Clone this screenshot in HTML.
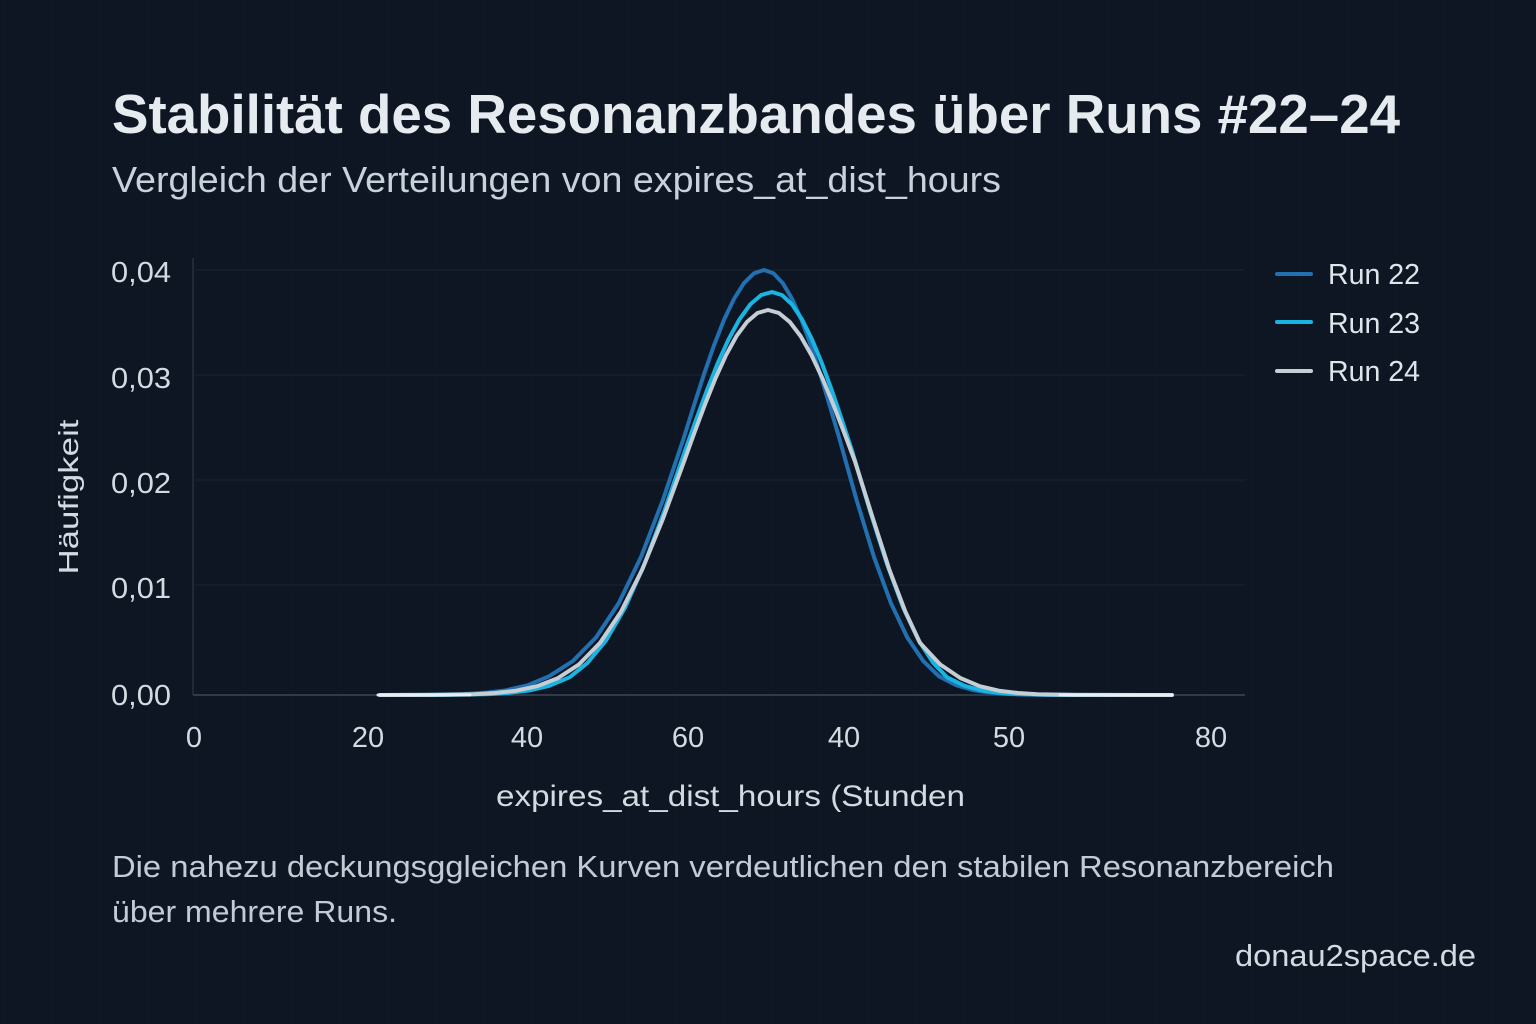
<!DOCTYPE html>
<html>
<head>
<meta charset="utf-8">
<style>
  html, body { margin: 0; padding: 0; }
  body { width: 1536px; height: 1024px; overflow: hidden; background: #0d1622; }
  svg { display: block; }
  text { font-family: "Liberation Sans", "DejaVu Sans", sans-serif; }
</style>
</head>
<body>
<svg width="1536" height="1024" viewBox="0 0 1536 1024" xmlns="http://www.w3.org/2000/svg">
  <defs>
    <pattern id="bggrid" width="48" height="48" patternUnits="userSpaceOnUse" x="5" y="0">
      <path d="M48 0 V48 M0 48 H48" stroke="#ffffff" stroke-opacity="0.025" stroke-width="1" fill="none"/>
    </pattern>
  </defs>
  <rect width="1536" height="1024" fill="#0d1622"/>
  <rect width="1536" height="1024" fill="url(#bggrid)"/>

  <!-- Title -->
  <text x="112" y="133" font-size="55" font-weight="bold" fill="#e6ebf0" textLength="1288" lengthAdjust="spacingAndGlyphs">Stabilität des Resonanzbandes über Runs #22–24</text>
  <text x="112" y="192" font-size="36" fill="#c8d2dc" textLength="889" lengthAdjust="spacingAndGlyphs">Vergleich der Verteilungen von expires_at_dist_hours</text>

  <!-- plot gridlines -->
  <g stroke="#16212d" stroke-width="1.5">
    <line x1="195" y1="270" x2="1245" y2="270"/>
    <line x1="195" y1="375" x2="1245" y2="375"/>
    <line x1="195" y1="480" x2="1245" y2="480"/>
    <line x1="195" y1="585" x2="1245" y2="585"/>
  </g>
  <!-- axes -->
  <line x1="193" y1="258" x2="193" y2="695" stroke="#243040" stroke-width="1.5"/>
  <line x1="193" y1="695" x2="1245" y2="695" stroke="#2e3b4a" stroke-width="2"/>

  <!-- y tick labels -->
  <g font-size="29" fill="#d3dae2">
    <text x="111" y="282" textLength="60" lengthAdjust="spacingAndGlyphs">0,04</text>
    <text x="111" y="388" textLength="60" lengthAdjust="spacingAndGlyphs">0,03</text>
    <text x="111" y="493" textLength="60" lengthAdjust="spacingAndGlyphs">0,02</text>
    <text x="111" y="598" textLength="60" lengthAdjust="spacingAndGlyphs">0,01</text>
    <text x="111" y="705" textLength="60" lengthAdjust="spacingAndGlyphs">0,00</text>
  </g>

  <!-- x tick labels -->
  <g font-size="29" fill="#d3dae2" text-anchor="middle">
    <text x="194" y="747">0</text>
    <text x="368" y="747">20</text>
    <text x="527" y="747">40</text>
    <text x="688" y="747">60</text>
    <text x="844" y="747">40</text>
    <text x="1009" y="747">50</text>
    <text x="1211" y="747">80</text>
  </g>

  <!-- axis titles -->
  <text x="496" y="806" font-size="30" fill="#d3dae2" textLength="469" lengthAdjust="spacingAndGlyphs">expires_at_dist_hours (Stunden</text>
  <text transform="translate(78,497) rotate(-90)" font-size="28" fill="#d3dae2" text-anchor="middle" textLength="155" lengthAdjust="spacingAndGlyphs">Häufigkeit</text>

  <!-- curves -->
  <g fill="none" stroke-width="4" stroke-linejoin="round" stroke-linecap="round">
    <polyline stroke="#2270b0" points="380,695 420,694.9 463,694.1 484.5,692.8 506,690.3 527.5,685.3 549,676.3 572.75,661.2 596,637.5 618.75,603.1 641,557 662.75,500.4 684,437.2 694,405.2 704,374.2 714,345.4 724,319.9 734,298.9 744,283.1 754,273.3 764,270 773.4,273.3 782.75,283.1 792.1,298.9 801.5,319.9 810.9,345.4 820.25,374.2 829.6,405.2 839,437.2 856.7,500.4 874,557 890.9,603.1 907.3,637.5 923.4,661.2 939,676.3 956.5,685.3 974,690.3 991.5,692.8 1009,694.1 1044,694.9 1172,695"/>
    <polyline stroke="#1ab4e2" points="380,695 448,694.9 488.5,694.1 508.75,692.9 529,690.5 549.25,685.8 569.5,677.3 587.5,662.9 606,640.5 625,607.8 644.5,564.1 664.5,510.5 685,450.6 695.9,420.2 706.75,390.8 717.6,363.5 728.5,339.4 739.4,319.4 750.25,304.4 761.1,295.1 772,292 782,295.1 792,304.4 802,319.4 812,339.4 822,363.5 832,390.8 842,420.2 852,450.6 869.9,510.5 887,564.1 903.25,607.8 918.7,640.5 933.25,662.9 947,677.3 964.5,685.8 982,690.5 999.5,692.9 1017,694.1 1052,694.9 1172,695"/>
    <polyline stroke="#c5cdd5" points="380,695 432,694.9 474,694.2 495,693 516,690.7 537,686.2 558,678.1 579,664.4 600,642.9 621,611.7 642,570 663,518.7 684,461.5 694.5,432.5 705,404.4 715.5,378.3 726,355.2 736.5,336.1 747,321.9 757.5,313 768,310 778.9,313 789.75,321.9 800.6,336.1 811.5,355.2 822.4,378.3 833.25,404.4 844.1,432.5 855,461.5 873,518.7 889.5,570 905.4,611.7 920,642.9 940.1,664.4 960.5,678.1 979.75,686.2 999,690.7 1018.25,693 1037.5,694.2 1076,694.9 1172,695"/>
    <line x1="378" y1="695" x2="470" y2="695" stroke="#e8eef3" stroke-width="3"/>
    <line x1="1060" y1="695" x2="1172" y2="695" stroke="#e8eef3" stroke-width="3"/>
  </g>

  <!-- legend -->
  <g stroke-width="4" stroke-linecap="round">
    <line x1="1277" y1="274" x2="1311" y2="274" stroke="#2270b0"/>
    <line x1="1277" y1="322" x2="1311" y2="322" stroke="#1ab4e2"/>
    <line x1="1277" y1="371" x2="1311" y2="371" stroke="#c5cdd5"/>
  </g>
  <g font-size="29" fill="#dfe5eb">
    <text x="1328" y="284" textLength="92" lengthAdjust="spacingAndGlyphs">Run 22</text>
    <text x="1328" y="333" textLength="92" lengthAdjust="spacingAndGlyphs">Run 23</text>
    <text x="1328" y="381" textLength="92" lengthAdjust="spacingAndGlyphs">Run 24</text>
  </g>

  <!-- footnote -->
  <g font-size="31" fill="#c2ccd6">
    <text x="112" y="877" textLength="1222" lengthAdjust="spacingAndGlyphs">Die nahezu deckungsggleichen Kurven verdeutlichen den stabilen Resonanzbereich</text>
    <text x="112" y="922" textLength="285" lengthAdjust="spacingAndGlyphs">über mehrere Runs.</text>
  </g>
  <text x="1476" y="966" font-size="31" fill="#d3dae2" text-anchor="end" textLength="241" lengthAdjust="spacingAndGlyphs">donau2space.de</text>
</svg>
</body>
</html>
